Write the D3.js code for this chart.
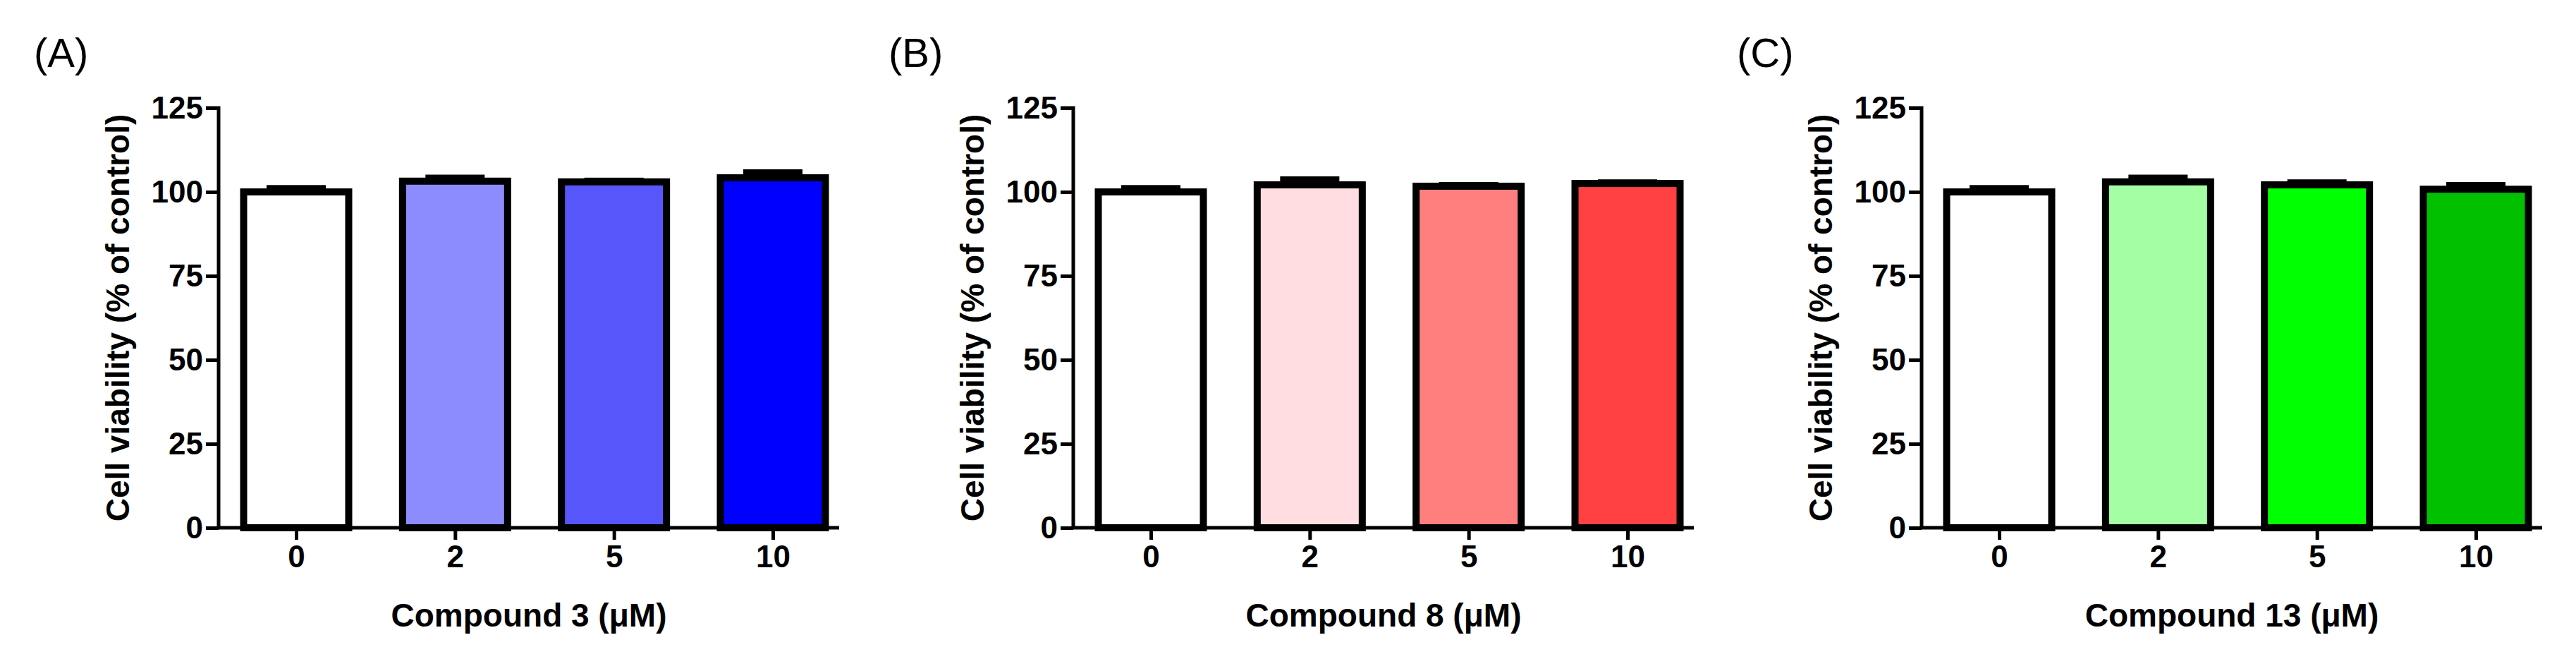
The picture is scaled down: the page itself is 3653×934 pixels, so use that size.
<!DOCTYPE html>
<html lang="en">
<head>
    <script src="https://d3js.org/d3.v7.min.js"></script>
    <title>cell viability</title>
    <style>
        body {margin: 0; background: #fff;}
        .tick text {font-family: "Liberation Sans Narrow", "Arial Narrow", sans-serif; font-weight: bold; font-size: 44px;}
        .title {font-family: "Liberation Sans", Arial, sans-serif; font-weight: bold; font-size: 46px;}
        .panel {font-family: "Liberation Sans", Arial, sans-serif; font-size: 58px;}
    </style>
</head>
<body>
<svg width="3653" height="934"></svg>
<script>
    // doses on x, one set per panel
    var doses = ['0', '2', '5', '10'];
    var yTicks = [0, 25, 50, 75, 100, 125];
    var panelLabels = ['(A)', '(B)', '(C)'];
    var xTitles = ['Compound 3 (\u03bcM)', 'Compound 8 (\u03bcM)', 'Compound 13 (\u03bcM)'];
    var means = [
        [100, 103.2, 103, 104.2],
        [100, 102.1, 101.7, 102.5],
        [100, 103, 102.1, 100.8]
    ];
    var errs = [
        [1.2, 1.1, 0.4, 1.7],
        [1.2, 1.7, 0.4, 0.4],
        [1.2, 1.3, 0.8, 1.3]
    ];
    var colors = [
        ['#ffffff', '#8c8cff', '#5656fa', '#0000ff'],
        ['#ffffff', '#ffdde0', '#ff7f7f', '#ff4141'],
        ['#ffffff', '#a4ffa4', '#00ff00', '#00c000']
    ];
    var axisX = [310, 1522, 2725];

    var svg = d3.select('svg');
    var y = d3.scaleLinear().domain([0, 125]).range([748, 153]);
    var x = d3.scalePoint().domain(doses).range([110, 786]);
    var barW = 149, capW = 84;

    axisX.forEach(function (ax, p) {
        var g = svg.append('g').attr('transform', 'translate(' + ax + ',0)');

        // bars
        g.selectAll('rect.bar').data(means[p]).enter().append('rect')
            .attr('x', (d, i) => x(doses[i]) - barW / 2)
            .attr('width', barW)
            .attr('y', d => y(d))
            .attr('height', d => y(0) - y(d))
            .attr('fill', (d, i) => colors[p][i])
            .attr('stroke', '#000').attr('stroke-width', 10);

        // error bars (cap sits on bar top)
        g.selectAll('rect.err').data(means[p]).enter().append('rect')
            .attr('x', (d, i) => x(doses[i]) - capW / 2)
            .attr('width', capW)
            .attr('y', (d, i) => y(d + errs[p][i]) - 4)
            .attr('height', (d, i) => y(d) - y(d + errs[p][i]) + 4)
            .attr('fill', '#000');

        // axes
        var yAxis = g.append('g').call(d3.axisLeft(y).tickValues(yTicks).tickSize(18).tickPadding(4));
        var xAxis = g.append('g').attr('transform', 'translate(0,' + y(0) + ')')
            .call(d3.axisBottom(x).tickSize(17).tickPadding(8).tickSizeOuter(0));
        xAxis.select('.domain').attr('d', 'M0,0H880');
        g.selectAll('.domain').attr('stroke-width', 5);
        g.selectAll('.tick line').attr('stroke-width', 5);
        g.selectAll('.tick text').attr('fill', '#000');
        yAxis.select('.domain').attr('d', 'M-18,' + y(125) + 'H0V' + y(0));

        g.append('text').attr('class', 'title')
            .attr('x', 440).attr('y', 888).attr('text-anchor', 'middle')
            .text(xTitles[p]);
        g.append('text').attr('class', 'title')
            .attr('transform', 'translate(-127,' + (y(62.5)) + ') rotate(-90)')
            .attr('text-anchor', 'middle')
            .text('Cell viability (% of control)');
        g.append('text').attr('class', 'panel')
            .attr('x', -262).attr('y', 95)
            .text(panelLabels[p]);
    });
</script>
</body>
</html>
